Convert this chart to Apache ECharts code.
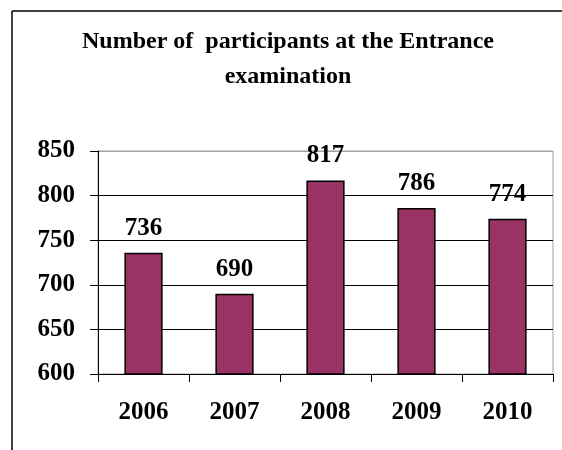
<!DOCTYPE html>
<html>
<head>
<meta charset="utf-8">
<script src="https://cdn.jsdelivr.net/npm/echarts@6/dist/echarts.min.js"></script>
<style>
  html, body { margin: 0; padding: 0; background: #fff; }
  #chart { width: 562px; height: 450px; }
</style>
</head>
<body>
<div id="chart"></div>
<script>
// data
const years = ['2006', '2007', '2008', '2009', '2010'];
const participants = [736, 690, 817, 786, 774];
const yMin = 600, yMax = 850, yStep = 50;

const serif = '"Liberation Serif", "Times New Roman", serif';

const chart = echarts.init(document.getElementById('chart'));
chart.setOption({
  animation: false,
  backgroundColor: '#fff',
  title: {
    text: 'Number of  participants at the Entrance\nexamination',
    left: 288,
    textAlign: 'center',
    top: 24,
    padding: 0,
    textStyle: {
      fontFamily: serif,
      fontWeight: 'bold',
      fontSize: 24,
      lineHeight: 35,
      color: '#000'
    }
  },
  // outer frame (left and top edges only are visible in the reference)
  graphic: [
    { type: 'line', shape: { x1: 12, y1: 11, x2: 12, y2: 450 }, style: { stroke: '#000', lineWidth: 1.5 } },
    { type: 'line', shape: { x1: 12, y1: 11, x2: 562, y2: 11 }, style: { stroke: '#000', lineWidth: 1.5 } }
  ],
  grid: {
    left: 98, right: 9, top: 151, bottom: 76,
    show: true,
    borderColor: '#a0a0a0',
    borderWidth: 1
  },
  xAxis: {
    type: 'category',
    data: years,
    axisLine: { lineStyle: { color: '#000', width: 1 } },
    axisTick: { show: true, length: 8, lineStyle: { color: '#000' } },
    axisLabel: {
      margin: 26,
      fontFamily: serif, fontWeight: 'bold', fontSize: 25, color: '#000'
    }
  },
  yAxis: {
    type: 'value',
    min: yMin, max: yMax, interval: yStep,
    axisLine: { show: true, lineStyle: { color: '#000', width: 1 } },
    axisTick: { show: true, length: 8, lineStyle: { color: '#000' } },
    axisLabel: {
      margin: 23,
      fontFamily: serif, fontWeight: 'bold', fontSize: 25, color: '#000'
    },
    splitLine: {
      show: true,
      lineStyle: { color: ['#000', '#000', '#000', '#000', '#000', '#a0a0a0'], width: 1 }
    }
  },
  series: [{
    type: 'bar',
    data: participants,
    barWidth: '42%',
    itemStyle: { color: '#993366', borderColor: '#000', borderWidth: 1.5 },
    label: {
      show: true,
      position: 'top',
      distance: 12,
      fontFamily: serif, fontWeight: 'bold', fontSize: 25, color: '#000'
    }
  }]
});
</script>
</body>
</html>
